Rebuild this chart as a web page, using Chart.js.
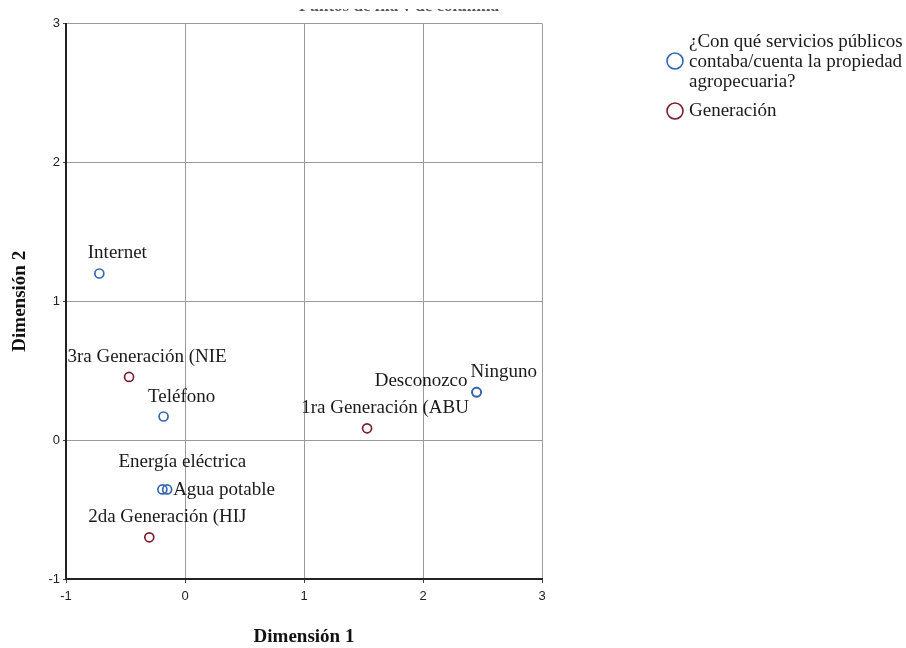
<!DOCTYPE html>
<html>
<head>
<meta charset="utf-8">
<script src="https://cdn.jsdelivr.net/npm/chart.js@4/dist/chart.umd.min.js"></script>
<style>
  html, body { margin: 0; padding: 0; background: #fff; }
  #wrap { width: 906px; height: 648px; }
</style>
</head>
<body>
<div id="wrap"><canvas id="c" width="906" height="648"></canvas></div>
<script>
// ---- data ----
const serviciosName = '¿Con qué servicios públicos contaba/cuenta la propiedad agropecuaria?';
const serviciosLabels = ['Internet', 'Teléfono', 'Energía eléctrica', 'Agua potable', 'Desconozco', 'Ninguno'];
const serviciosX = [-0.72, -0.18, -0.19, -0.15, 2.45, 2.45];
const serviciosY = [1.20, 0.17, -0.355, -0.355, 0.345, 0.345];

const generacionName = 'Generación';
const generacionLabels = ['1ra Generación (ABU', '2da Generación (HIJ', '3ra Generación (NIE'];
const generacionX = [1.53, -0.30, -0.47];
const generacionY = [0.085, -0.70, 0.455];

const xTicks = [-1, 0, 1, 2, 3];
const yTicks = [-1, 0, 1, 2, 3];
const xTitle = 'Dimensión 1';
const yTitle = 'Dimensión 2';
const legendLines1 = ['¿Con qué servicios públicos', 'contaba/cuenta la propiedad', 'agropecuaria?'];
const chartTitle = 'Puntos de fila y de columna';

// ---- styles ----
const BLUE = '#3566b0';
const RED = '#7d1f2d';
const SERIF = '"Liberation Serif", "DejaVu Serif", serif';
const SANS = '"Liberation Sans", Arial, sans-serif';

// label placement (style only): default is centered above-right
const labelPlace = {
  'Energía eléctrica': { dx: 20, dy: -27, align: 'center' },
  'Agua potable': { dx: 6, dy: 1, align: 'left' },
  'Desconozco': { dx: -9, dy: -11, align: 'right' },
  'Ninguno': { dx: -6, dy: -20, align: 'left' }
};
const defaultPlace = { dx: 18, dy: -20, align: 'center' };

function makePoints(xs, ys, labels) {
  return xs.map((x, i) => ({ x: x, y: ys[i], label: labels[i] }));
}

const pointLabels = {
  id: 'pointLabels',
  afterDatasetsDraw(chart) {
    const ctx = chart.ctx;
    ctx.save();
    ctx.font = '19px ' + SERIF;
    ctx.fillStyle = '#1a1a1a';
    ctx.textBaseline = 'middle';
    chart.data.datasets.forEach((ds, di) => {
      const meta = chart.getDatasetMeta(di);
      meta.data.forEach((el, i) => {
        const lab = ds.data[i].label;
        const p = labelPlace[lab] || defaultPlace;
        ctx.textAlign = p.align;
        ctx.fillText(lab, el.x + p.dx, el.y + p.dy);
      });
    });
    ctx.restore();
  }
};

const extras = {
  id: 'extras',
  afterDraw(chart) {
    const ctx = chart.ctx;
    const a = chart.chartArea;
    ctx.save();
    // axis titles
    ctx.fillStyle = '#111';
    ctx.font = 'bold 19px ' + SERIF;
    ctx.textAlign = 'center';
    ctx.textBaseline = 'middle';
    ctx.fillText(xTitle, (a.left + a.right) / 2, 637);
    ctx.save();
    ctx.translate(20, (a.top + a.bottom) / 2);
    ctx.rotate(-Math.PI / 2);
    ctx.fillText(yTitle, 0, 0);
    ctx.restore();

    // legend
    ctx.font = '19px ' + SERIF;
    ctx.textAlign = 'left';
    ctx.fillStyle = '#1a1a1a';
    const lx = 689;
    const ys = [42, 62, 82];
    legendLines1.forEach((t, i) => ctx.fillText(t, lx, ys[i]));
    ctx.fillText(generacionName, lx, 111);
    ctx.lineWidth = 1.6;
    ctx.strokeStyle = BLUE;
    ctx.beginPath(); ctx.arc(675, 61, 8, 0, Math.PI * 2); ctx.stroke();
    ctx.strokeStyle = RED;
    ctx.beginPath(); ctx.arc(675, 111, 8, 0, Math.PI * 2); ctx.stroke();
    ctx.restore();

    // cut-off title at the very top: only the bottom sliver of the glyphs shows
    const off = document.createElement('canvas');
    off.width = 906; off.height = 40;
    const o = off.getContext('2d');
    o.font = 'bold 17px ' + SERIF;
    o.textAlign = 'center';
    o.textBaseline = 'alphabetic';
    o.fillStyle = '#555';
    o.fillText(chartTitle, 399, 11);
    ctx.drawImage(off, 0, 9, 906, 2, 0, 9, 906, 2);
  }
};

new Chart(document.getElementById('c'), {
  type: 'scatter',
  data: {
    datasets: [
      {
        label: serviciosName,
        data: makePoints(serviciosX, serviciosY, serviciosLabels),
        borderColor: BLUE,
        backgroundColor: 'rgba(255,255,255,0)',
        pointRadius: 4.5,
        pointBorderWidth: 1.7,
        pointHoverRadius: 4.5
      },
      {
        label: generacionName,
        data: makePoints(generacionX, generacionY, generacionLabels),
        borderColor: RED,
        backgroundColor: 'rgba(255,255,255,0)',
        pointRadius: 4.5,
        pointBorderWidth: 1.7,
        pointHoverRadius: 4.5
      }
    ]
  },
  options: {
    responsive: false,
    animation: false,
    events: [],
    layout: { padding: { left: 0, right: 364, top: 23.5, bottom: 0 } },
    plugins: {
      legend: { display: false },
      tooltip: { enabled: false },
      title: { display: false }
    },
    scales: {
      x: {
        type: 'linear',
        min: -1, max: 3,
        afterFit(s) { s.height = 69; },
        afterBuildTicks(s) { s.ticks = xTicks.map(v => ({ value: v })); },
        ticks: { font: { family: SANS, size: 13 }, color: '#222', padding: 6 },
        grid: { color: '#9a9a9a', lineWidth: 1, tickLength: 4, tickColor: '#444' },
        border: { display: true, color: '#222', width: 2 }
      },
      y: {
        type: 'linear',
        min: -1, max: 3,
        afterFit(s) { s.width = 66; },
        afterBuildTicks(s) { s.ticks = yTicks.map(v => ({ value: v })); },
        ticks: { font: { family: SANS, size: 13 }, color: '#222', padding: 3 },
        grid: { color: '#9a9a9a', lineWidth: 1, tickLength: 3, tickColor: '#444' },
        border: { display: true, color: '#222', width: 2 }
      }
    }
  },
  plugins: [pointLabels, extras]
});
</script>
</body>
</html>
